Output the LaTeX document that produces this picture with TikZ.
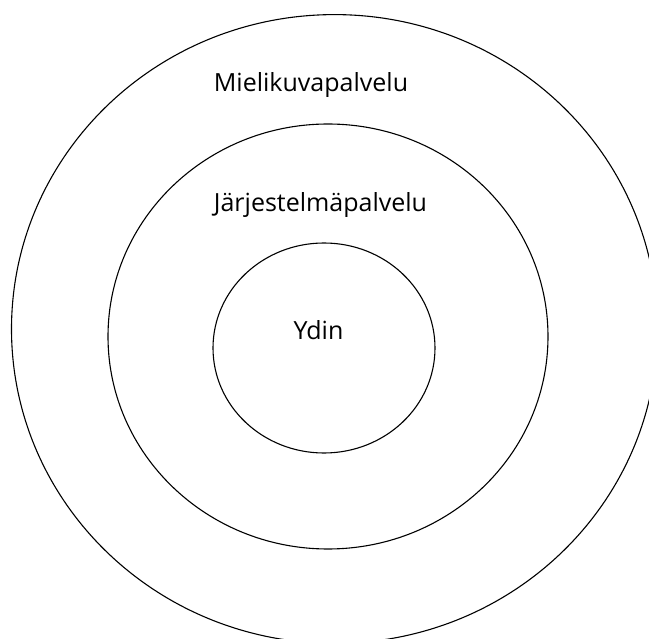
\documentclass[tikz,border=0pt]{standalone}
\usepackage{fontspec}
\setmainfont{Open Sans}
\begin{document}
\begin{tikzpicture}[x=1pt,y=-1pt,
  ring/.style={draw=black,line width=1.1pt},
  lbl/.style={inner sep=0pt,anchor=base,font=\fontsize{25}{30}\selectfont}]
\useasboundingbox (0,0) rectangle (649,639);
\begin{scope}
\clip (0,0) rectangle (649,639);
\draw[ring] (334.5,329) ellipse [x radius=323, y radius=314.4];
\end{scope}
\draw[ring] (328,336.5) ellipse [x radius=220, y radius=212.5];
\draw[ring] (324,348) ellipse [x radius=111, y radius=105];
\node[lbl] (outer) at (311,92) {Mielikuvapalvelu};
\node[lbl] (middle) at (320.5,212) {Järjestelmäpalvelu};
\node[lbl] (core) at (318.5,340) {Ydin};
\end{tikzpicture}
\end{document}
